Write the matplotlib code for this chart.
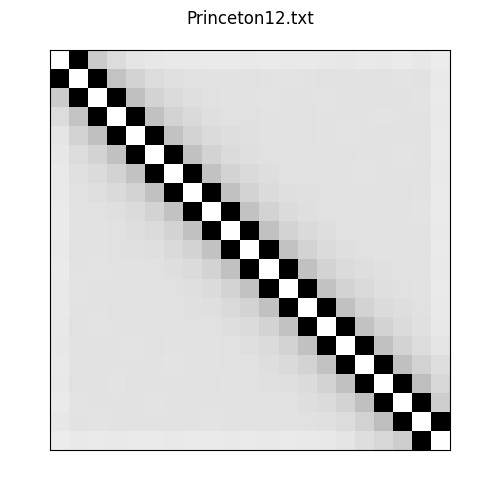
import numpy as np
import matplotlib
matplotlib.use("Agg")
import matplotlib.pyplot as plt

titulo = "Princeton12.txt"
n = 21

# gray levels (0-255), upper triangle, row i holds j = i+1 .. 20
row_00 = [0, 203, 220, 229, 231, 233, 233, 234, 234, 233, 234, 233, 233, 232, 231, 233, 232, 234, 231, 236]
row_01 = [0, 195, 212, 220, 224, 225, 226, 226, 225, 226, 227, 226, 225, 226, 226, 225, 227, 226, 233]
row_02 = [0, 192, 212, 219, 223, 225, 226, 226, 227, 226, 226, 227, 226, 226, 225, 226, 227, 234]
row_03 = [0, 193, 211, 218, 223, 225, 225, 226, 226, 225, 226, 226, 226, 227, 226, 226, 233]
row_04 = [0, 194, 211, 219, 222, 224, 226, 226, 225, 226, 227, 226, 225, 226, 226, 234]
row_05 = [0, 193, 212, 219, 223, 225, 225, 226, 226, 225, 226, 226, 227, 226, 234]
row_06 = [0, 194, 212, 218, 222, 225, 226, 226, 226, 227, 226, 226, 226, 233]
row_07 = [0, 193, 211, 219, 223, 224, 225, 226, 226, 226, 225, 226, 234]
row_08 = [0, 194, 212, 219, 223, 225, 226, 226, 225, 226, 227, 234]
row_09 = [0, 193, 211, 218, 222, 225, 225, 226, 226, 226, 233]
row_10 = [0, 194, 212, 219, 223, 225, 226, 226, 226, 234]
row_11 = [0, 193, 211, 219, 222, 224, 226, 226, 233]
row_12 = [0, 194, 212, 218, 223, 225, 226, 234]
row_13 = [0, 193, 211, 219, 222, 225, 233]
row_14 = [0, 194, 212, 219, 224, 232]
row_15 = [0, 193, 211, 220, 229]
row_16 = [0, 192, 210, 222]
row_17 = [0, 190, 215]
row_18 = [0, 205]
row_19 = [0]
diagonal = 255

linhas = [row_00, row_01, row_02, row_03, row_04, row_05, row_06, row_07, row_08, row_09,
          row_10, row_11, row_12, row_13, row_14, row_15, row_16, row_17, row_18, row_19]

matriz = np.full((n, n), float(diagonal))
for i, linha in enumerate(linhas):
    for k, v in enumerate(linha):
        j = i + 1 + k
        matriz[i, j] = v
        matriz[j, i] = v

fig = plt.figure(figsize=(5, 5), dpi=100)
ax = fig.add_axes([0.1, 0.1, 0.8, 0.8])
ax.imshow(matriz, cmap="gray", vmin=0, vmax=255, interpolation="nearest", aspect="auto")
ax.set_xticks([])
ax.set_yticks([])
fig.suptitle(titulo)
fig.savefig("out.png", dpi=100)
